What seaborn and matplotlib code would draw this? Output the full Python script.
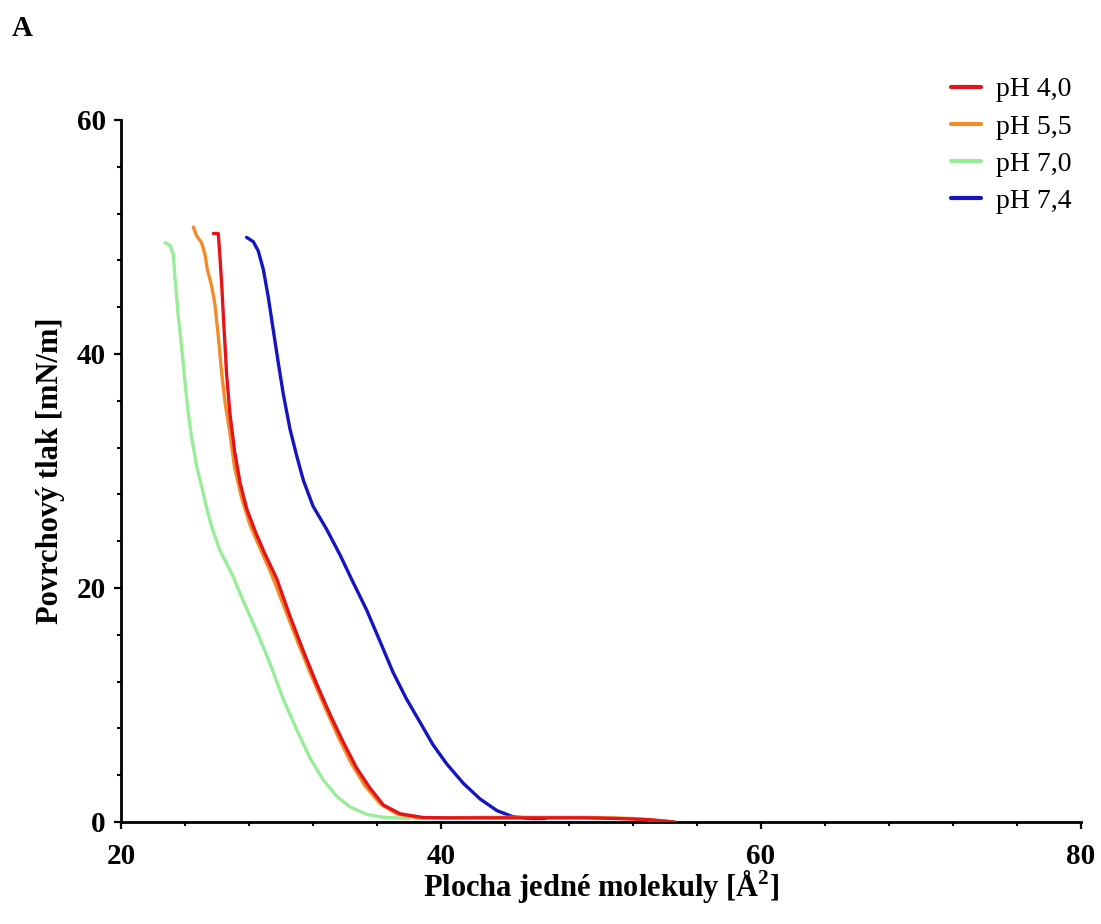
import numpy as np
import pandas as pd
import matplotlib
matplotlib.use("Agg")
import matplotlib.pyplot as plt
import seaborn as sns
from matplotlib.ticker import MultipleLocator

series_names = ["pH 4,0", "pH 5,5", "pH 7,0", "pH 7,4"]
series_colors = ["#e3141a", "#f28c28", "#98ee98", "#1515c0"]

x_ph40 = [25.77, 26.08, 26.19, 26.3, 26.4, 26.6, 26.8, 27.1, 27.44, 27.85, 28.4, 29.0, 29.73, 30.56, 31.4,
          32.23, 33.06, 33.9, 34.73, 35.56, 36.4, 37.44, 38.9, 40.5, 43.0, 46.0, 49.0, 51.0, 53.0, 54.6]
y_ph40 = [50.3, 50.3, 48.2, 45.8, 43.2, 38.3, 35.0, 31.7, 29.0, 26.8, 24.8, 22.9, 20.8, 17.6, 14.6,
          11.8, 9.2, 6.8, 4.6, 2.9, 1.45, 0.7, 0.38, 0.35, 0.35, 0.35, 0.35, 0.3, 0.2, 0.0]

x_ph55 = [24.52, 24.73, 25.04, 25.25, 25.4, 25.67, 25.875, 26.08, 26.3, 26.5, 26.8, 27.1, 27.54, 28.06,
          28.69, 29.4, 30.25, 31.1, 31.9, 32.75, 33.6, 34.4, 35.25, 36.2, 37.23, 38.5, 40.0, 43.0, 46.0,
          49.0, 52.0, 54.6]
y_ph55 = [50.85, 50.1, 49.5, 48.5, 47.2, 45.8, 44.2, 41.55, 38.25, 35.9, 33.3, 30.3, 27.7, 25.4,
          23.4, 21.2, 18.2, 15.2, 12.5, 9.8, 7.2, 5.0, 3.1, 1.55, 0.7, 0.35, 0.35, 0.4, 0.4,
          0.4, 0.3, 0.0]

x_ph70 = [22.75, 23.06, 23.27, 23.375, 23.58, 23.79, 24.0, 24.2, 24.42, 24.73, 25.04, 25.36, 25.67, 26.19,
          27.0, 27.64, 28.48, 29.3, 30.14, 30.98, 31.8, 32.64, 33.48, 34.3, 35.36, 36.4, 37.2, 38.0]
y_ph70 = [49.5, 49.3, 48.5, 46.5, 43.2, 40.6, 37.6, 35.0, 32.8, 30.4, 28.7, 26.8, 25.2, 23.2,
          21.0, 18.9, 16.3, 13.6, 10.5, 7.9, 5.5, 3.6, 2.2, 1.3, 0.65, 0.4, 0.35, 0.3]

x_ph74 = [27.85, 28.27, 28.58, 28.9, 29.2, 29.5, 29.83, 30.14, 30.56, 30.98, 31.4, 32.0, 32.86, 33.7,
          34.5, 35.36, 36.2, 37.0, 37.85, 38.7, 39.5, 40.36, 41.4, 42.44, 43.5, 44.5, 45.6, 46.5]
y_ph74 = [49.97, 49.6, 48.8, 47.2, 44.9, 42.2, 39.25, 36.6, 33.6, 31.3, 29.2, 27.0, 25.0, 22.8,
          20.5, 18.1, 15.4, 12.8, 10.5, 8.5, 6.6, 4.96, 3.3, 1.97, 0.97, 0.45, 0.3, 0.3]

xs = [x_ph40, x_ph55, x_ph70, x_ph74]
ys = [y_ph40, y_ph55, y_ph70, y_ph74]

frames = []
for name, xv, yv in zip(series_names, xs, ys):
    frames.append(pd.DataFrame({"area": xv, "pressure": yv, "series": name}))
df = pd.concat(frames, ignore_index=True)

sns.set_theme(style="white")
plt.rcParams["font.family"] = ["Liberation Serif", "DejaVu Serif"]
plt.rcParams["mathtext.fontset"] = "custom"
plt.rcParams["mathtext.rm"] = "Liberation Serif:bold"
plt.rcParams["mathtext.bf"] = "Liberation Serif:bold"
plt.rcParams["text.color"] = "black"
plt.rcParams["axes.labelcolor"] = "black"
plt.rcParams["xtick.color"] = "black"
plt.rcParams["ytick.color"] = "black"

fig = plt.figure(figsize=(11.01, 9.24), dpi=100)
ax = fig.add_axes([121 / 1101, 1 - 822 / 924, 960 / 1101, 702 / 924])

sns.lineplot(data=df, x="area", y="pressure", hue="series", hue_order=series_names,
             palette=series_colors, sort=False, estimator=None, units="series", ax=ax,
             linewidth=2.4, legend=True)

for i, ln in enumerate(ax.lines[:4]):
    ln.set_zorder([5, 4, 3, 3][i])
    ln.set_solid_capstyle("round")
    ln.set_solid_joinstyle("round")

ax.set_xlim(20, 80)
ax.set_ylim(0, 60)
ax.xaxis.set_major_locator(MultipleLocator(20))
ax.xaxis.set_minor_locator(MultipleLocator(4))
ax.yaxis.set_major_locator(MultipleLocator(20))
ax.yaxis.set_minor_locator(MultipleLocator(4))

for side in ["top", "right"]:
    ax.spines[side].set_visible(False)
for side in ["left", "bottom"]:
    ax.spines[side].set_linewidth(2.0)
    ax.spines[side].set_color("black")

ax.tick_params(axis="both", which="major", direction="out", length=5, width=1.6, color="black",
               labelsize=21, bottom=True, left=True)
ax.tick_params(axis="x", which="major", pad=10)
ax.tick_params(axis="y", which="major", pad=6)
ax.tick_params(axis="both", which="minor", direction="out", length=3, width=1.5, color="black",
               bottom=True, left=True)
for lab in ax.get_xticklabels() + ax.get_yticklabels():
    lab.set_fontweight("bold")

ax.set_xlabel(r"Plocha jedné molekuly [Å$^{\mathbf{2}}$]", fontsize=22, fontweight="bold", labelpad=-1)
ax.set_ylabel("Povrchový tlak [mN/m]", fontsize=22, fontweight="bold", labelpad=8)

leg = ax.legend(loc="upper right", bbox_to_anchor=(1.008, 1.085), frameon=False, fontsize=20,
                handlelength=1.05, handletextpad=0.57, labelspacing=0.42, title=None,
                borderaxespad=0.2)
for h in leg.get_lines():
    h.set_linewidth(3)

fig.text(12 / 1101, 1 - 28 / 924, "A", fontsize=21, fontweight="bold", va="center", ha="left")

fig.savefig("out.png", dpi=100)
